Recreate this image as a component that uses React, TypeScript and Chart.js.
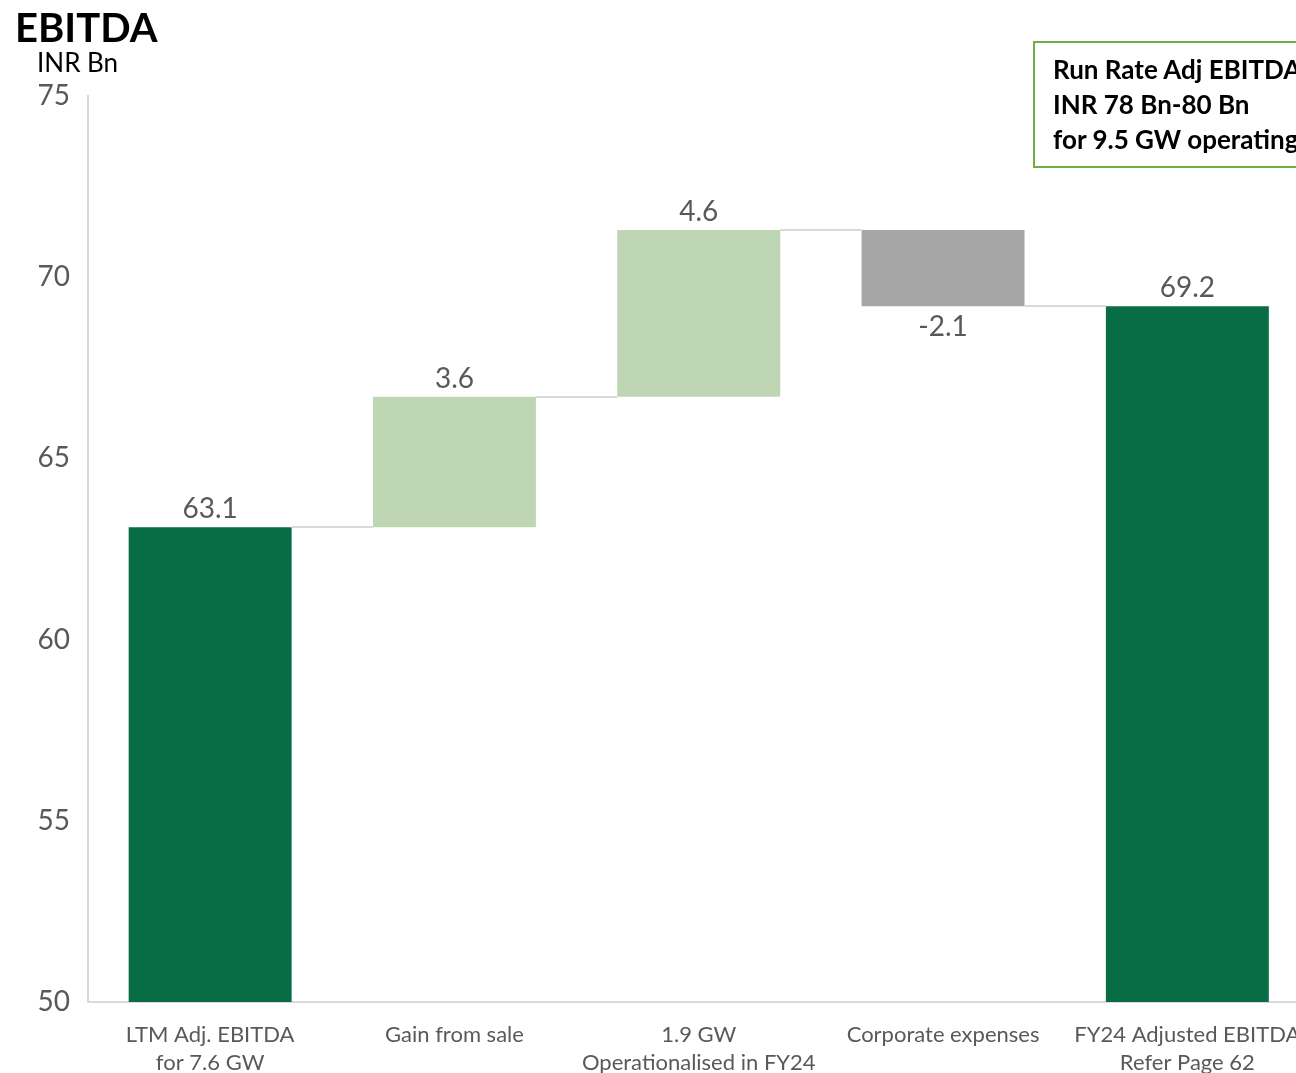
import { useEffect, useRef } from "react";
import { Chart, registerables } from "chart.js";

Chart.register(...registerables);

const categories: string[][] = [
  ["LTM Adj. EBITDA", "for 7.6 GW"],
  ["Gain from sale"],
  ["1.9 GW", "Operationalised in FY24"],
  ["Corporate expenses"],
  ["FY24 Adjusted EBITDA", "Refer Page 62"],
];
const changes: number[] = [63.1, 3.6, 4.6, -2.1, 69.2];
const kinds: string[] = ["total", "increase", "increase", "decrease", "total"];
const yTicks = { min: 50, max: 75, step: 5 };
const boxLines: string[] = ["Run Rate Adj EBITDA of", "INR 78 Bn-80 Bn", "for 9.5 GW operating capacity"];

const COLORS: Record<string, string> = {
  total: "#086d45",
  increase: "#bed6b4",
  decrease: "#a6a6a6",
};

const FONT = "Lato, 'Open Sans', sans-serif";
const TEXT = "#595959";

function buildRanges() {
  const ranges: [number, number][] = [];
  const ends: number[] = [];
  let run = 0;
  changes.forEach((v, i) => {
    if (kinds[i] === "total") {
      run = v;
      ranges.push([yTicks.min, v]);
    } else {
      const start = run;
      run = Math.round((run + v) * 10) / 10;
      ranges.push([start, run]);
    }
    ends.push(run);
  });
  return { ranges, ends };
}

export default function App() {
  const ref = useRef<HTMLCanvasElement>(null);

  useEffect(() => {
    const { ranges, ends } = buildRanges();
    const waterfall = {
      id: "waterfall",
      afterDatasetsDraw(chart: any) {
        const ctx = chart.ctx;
        const meta = chart.getDatasetMeta(0);
        const y = chart.scales.y;
        ctx.save();
        ctx.strokeStyle = "#d9d9d9";
        ctx.lineWidth = 2;
        for (let i = 0; i < meta.data.length - 1; i++) {
          const a = meta.data[i];
          const b = meta.data[i + 1];
          const yy = Math.round(y.getPixelForValue(ends[i]));
          ctx.beginPath();
          ctx.moveTo(a.x + a.width / 2, yy);
          ctx.lineTo(b.x - b.width / 2, yy);
          ctx.stroke();
        }
        ctx.fillStyle = TEXT;
        ctx.font = `28px ${FONT}`;
        ctx.textAlign = "center";
        ctx.textBaseline = "middle";
        meta.data.forEach((bar: any, i: number) => {
          const [lo, hi] = ranges[i];
          const txt = changes[i].toFixed(1);
          if (changes[i] >= 0) {
            ctx.fillText(txt, bar.x, y.getPixelForValue(Math.max(lo, hi)) - 18);
          } else {
            ctx.fillText(txt, bar.x, y.getPixelForValue(Math.min(lo, hi)) + 21);
          }
        });
        ctx.restore();
      },
    };

    const chart = new Chart(ref.current!, {
      type: "bar",
      data: {
        labels: categories,
        datasets: [
          {
            data: ranges,
            backgroundColor: kinds.map((k) => COLORS[k]),
            borderWidth: 0,
            barPercentage: 0.667,
            categoryPercentage: 1,
            borderSkipped: false,
          },
        ],
      },
      options: {
        responsive: false,
        animation: false,
        devicePixelRatio: 1,
        layout: { padding: { left: 0, right: 20.5, top: 96, bottom: 0 } },
        plugins: { legend: { display: false }, tooltip: { enabled: false } },
        scales: {
          x: {
            grid: { display: false, drawTicks: false },
            border: { display: true, color: "#d9d9d9", width: 2 },
            ticks: {
              color: TEXT,
              font: { family: FONT, size: 22, lineHeight: 1.27 },
              padding: 19,
              maxRotation: 0,
              autoSkip: false,
            },
            afterFit: (s: any) => {
              s.height = 98;
            },
          },
          y: {
            min: yTicks.min,
            max: yTicks.max,
            grid: { display: false, drawTicks: false },
            border: { display: true, color: "#d9d9d9", width: 2 },
            ticks: {
              stepSize: yTicks.step,
              color: TEXT,
              font: { family: FONT, size: 28 },
              padding: 18,
            },
            afterFit: (s: any) => {
              s.width = 88;
            },
          },
        },
      },
      plugins: [waterfall],
    });
    return () => chart.destroy();
  }, []);

  return (
    <div
      style={{
        position: "fixed",
        left: 0,
        top: 0,
        width: 1296,
        height: 1073,
        overflow: "hidden",
        background: "#fff",
        fontFamily: FONT,
      }}
    >
      <canvas
        ref={ref}
        width={1330}
        height={1100}
        style={{ position: "absolute", left: 0, top: 0, display: "block" }}
      />
      <div
        style={{
          position: "absolute",
          left: 15,
          top: 7,
          fontSize: 40,
          fontWeight: 700,
          lineHeight: 1,
          color: "#000",
          whiteSpace: "nowrap",
        }}
      >
        EBITDA
      </div>
      <div
        style={{
          position: "absolute",
          left: 37,
          top: 49,
          fontSize: 26,
          lineHeight: 1,
          color: "#000",
          whiteSpace: "nowrap",
        }}
      >
        INR Bn
      </div>
      <div
        style={{
          position: "absolute",
          left: 1033,
          top: 41,
          width: 400,
          height: 114,
          border: "2px solid #70ad47",
          boxSizing: "content-box",
          padding: "9px 0 0 18px",
          fontSize: 26,
          fontWeight: 700,
          lineHeight: "35px",
          color: "#000",
          whiteSpace: "nowrap",
        }}
      >
        {boxLines.map((l) => (
          <div key={l}>{l}</div>
        ))}
      </div>
    </div>
  );
}
